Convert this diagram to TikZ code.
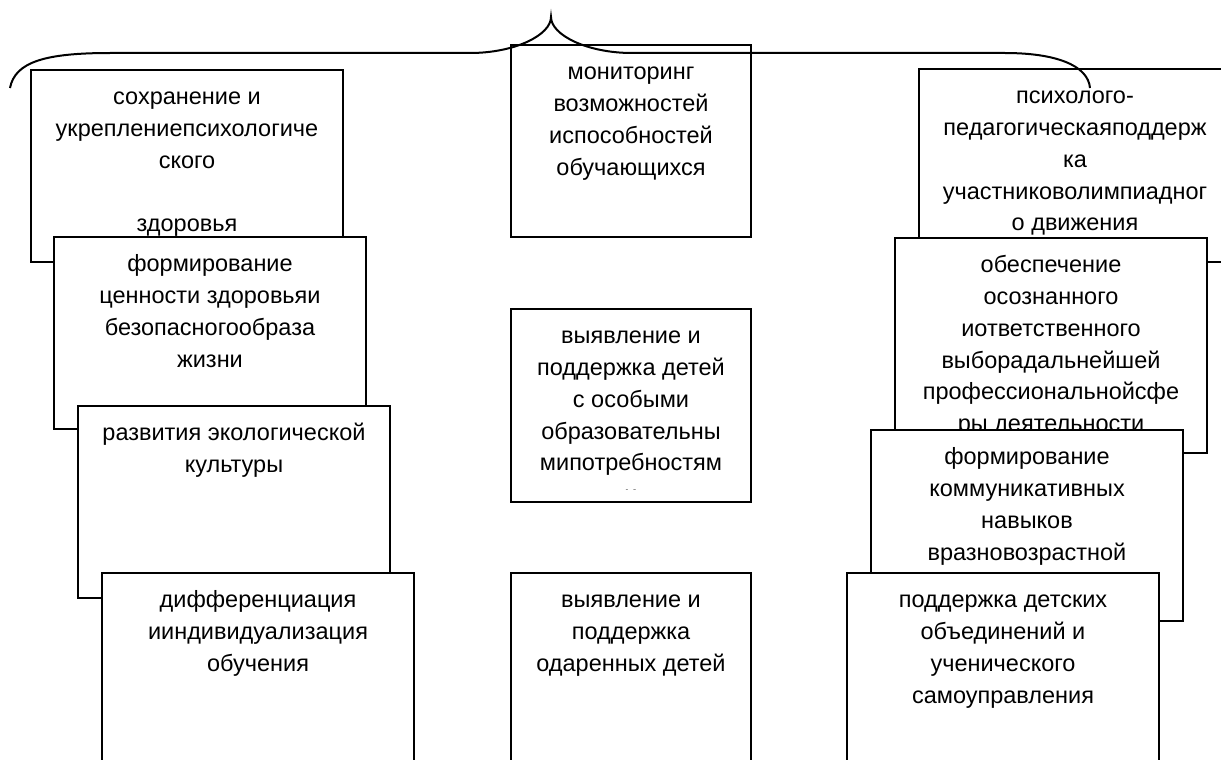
\documentclass[tikz,border=0pt]{standalone}
\usepackage{fontspec}
\setmainfont{Liberation Sans}
\usetikzlibrary{positioning}

\tikzset{
  blk/.style={draw, fill=white, line width=2pt, outer sep=0pt, inner sep=0pt,
    minimum width=312pt, minimum height=192pt, anchor=north west},
  midblk/.style={blk, minimum width=240pt},
  txt/.style={align=center, inner sep=0pt, outer sep=0pt,
    font=\fontsize{23.5}{31.7}\selectfont},
}

\begin{document}
\begin{tikzpicture}[x=1pt, y=-1pt]
 \useasboundingbox (0,0) rectangle (1221,760);
 \clip (0,0) rectangle (1221,760);

 % left column
 \node[blk] (hlth) at (31,70) {};
 \node[txt, below=12.8pt of hlth.north] (hlthT) {\strut сохранение и\\укреплениепсихологиче\\ского\\[31.7pt]здоровья};
 \node[blk] (safe) at (54,237) {};
 \node[txt, below=12.8pt of safe.north] (safeT) {\strut формирование\\ценности здоровьяи\\безопасногообраза\\жизни};
 \node[blk] (eco) at (78,406) {};
 \node[txt, below=12.8pt of eco.north] (ecoT) {\strut развития экологической\\культуры};
 \node[blk] (diff) at (102,573) {};
 \node[txt, below=12.8pt of diff.north] (diffT) {\strut дифференциация\\ииндивидуализация\\обучения};

 % middle column
 \node[midblk] (mon) at (511,45) {};
 \node[txt, below=12.8pt of mon.north] (monT) {\strut мониторинг\\возможностей\\испособностей\\обучающихся};
 \node[midblk, minimum height=193pt] (spec) at (511,309) {};
 \begin{scope}
  \clip (511,309) rectangle (752,489);
  \node[txt, below=12.8pt of spec.north] (specT) {\strut выявление и\\поддержка детей\\с особыми\\образовательны\\мипотребностям\\и};
 \end{scope}
 \node[midblk] (gift) at (511,573) {};
 \node[txt, below=12.8pt of gift.north] (giftT) {\strut выявление и\\поддержка\\одаренных детей};

 % right column
 \node[blk, minimum height=193pt] (olymp) at (919,69) {};
 \node[txt, below=12.8pt of olymp.north] (olympT) {\strut психолого-\\педагогическаяподдерж\\ка\\участниковолимпиадног\\о движения};
 \node[blk, minimum height=215pt] (prof) at (895,238) {};
 \node[txt, below=12.8pt of prof.north] (profT) {\strut обеспечение\\осознанного\\иответственного\\выборадальнейшей\\профессиональнойсфе\\ры деятельности};
 \node[blk, minimum height=191pt] (comm) at (871,430) {};
 \node[txt, below=12.8pt of comm.north] (commT) {\strut формирование\\коммуникативных\\навыков\\вразновозрастной};
 \node[blk] (self) at (847,573) {};
 \node[txt, below=12.8pt of self.north] (selfT) {\strut поддержка детских\\объединений и\\ученического\\самоуправления};

 % brace over the columns
 \draw[line width=2pt] (10,88) .. controls (15,62) and (45,53) .. (110,53) -- (470,53)
   .. controls (515,53) and (551,35) .. (551,17)
   .. controls (551,35) and (587,53) .. (632,53) -- (1005,53)
   .. controls (1055,53) and (1088,65) .. (1090,88);

\end{tikzpicture}
\end{document}
